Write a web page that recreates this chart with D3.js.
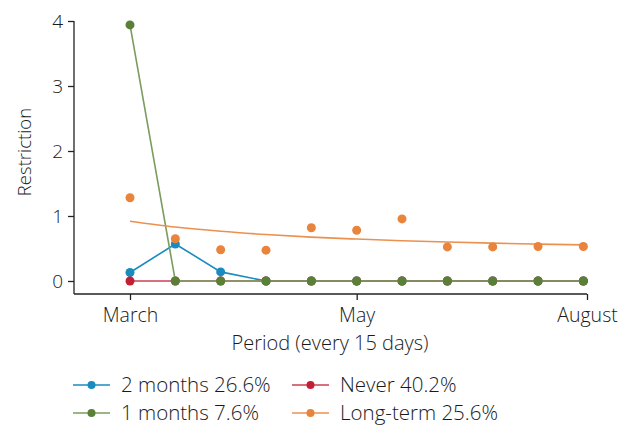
<!DOCTYPE html>
<html>
<head>
<meta charset="utf-8">
<script src="https://cdn.jsdelivr.net/npm/d3@7"></script>
<style>
  body { margin: 0; background: #fff; }
  text { font-family: 'Open Sans', 'DejaVu Sans', sans-serif; font-weight: 300; fill: #1a1a1a; }
</style>
</head>
<body>
<div id="chart"></div>
<script>
// period index (every 15 days)
var periods = [0, 1, 2, 3, 4, 5, 6, 7, 8, 9, 10];
var xTickVals = [0, 5, 10.08];
var xTickLabels = ['March', 'May', 'August'];
var yTicks = [0, 1, 2, 3, 4];

var twoMonths = [0.13, 0.57, 0.14, 0, 0, 0, 0, 0, 0, 0, 0];
var never = [0, 0, 0, 0, 0, 0, 0, 0, 0, 0, 0];
var oneMonth = [3.94, 0, 0, 0, 0, 0, 0, 0, 0, 0, 0];
var longTerm = [1.28, 0.65, 0.48, 0.475, 0.82, 0.78, 0.955, 0.525, 0.525, 0.53, 0.53];
var longTermFit = [0.92, 0.83, 0.765, 0.715, 0.675, 0.645, 0.62, 0.6, 0.583, 0.568, 0.556];

var legendItems = [
    { label: '2 months 26.6%', color: '#1a8bbf', line: '#1a8bbf' },
    { label: 'Never 40.2%', color: '#c41e35', line: '#c94050' },
    { label: '1 months 7.6%', color: '#5a8038', line: '#7a9c5c' },
    { label: 'Long-term 25.6%', color: '#e8843c', line: '#ec9050' }
];

var w = 630, h = 427;
var svg = d3.select('#chart')
    .append('svg')
    .attr('width', w)
    .attr('height', h);

var x = d3.scaleLinear().domain([0, 10.08]).range([130, 587]);
var y = d3.scaleLinear().domain([-0.2, 4]).range([294, 21]);

// axes
var yAxis = svg.append('g')
    .attr('transform', 'translate(74,0)')
    .call(d3.axisLeft(y).tickValues(yTicks).tickSize(6).tickPadding(5).tickFormat(d3.format('d')));
yAxis.select('.domain').attr('d', 'M0,' + y(4) + 'V294');
yAxis.selectAll('text').style('font-size', '19px');

var xAxis = svg.append('g')
    .attr('transform', 'translate(0,294)')
    .call(d3.axisBottom(x).tickValues(xTickVals).tickSize(6).tickPadding(8)
        .tickFormat((d, i) => xTickLabels[i]));
xAxis.select('.domain').attr('d', 'M74,0H' + x(10.08));
xAxis.selectAll('text').style('font-size', '19.5px');
svg.selectAll('.domain, .tick line').attr('stroke', '#222').attr('stroke-width', 1.3);

svg.append('text')
    .attr('transform', 'translate(31,' + 152 + ') rotate(-90)')
    .attr('text-anchor', 'middle')
    .style('font-size', '18.5px')
    .text('Restriction');

svg.append('text')
    .attr('x', 330)
    .attr('y', 350)
    .attr('text-anchor', 'middle')
    .style('font-size', '20px')
    .text('Period (every 15 days)');

var line = d3.line()
    .x((d, i) => x(periods[i]))
    .y((d) => y(d));

function series(vals, color, lineColor, withLine) {
    if (withLine) {
        svg.append('path')
            .datum(vals)
            .attr('fill', 'none')
            .attr('stroke', lineColor)
            .attr('stroke-width', 1.6)
            .attr('d', line);
    }
    svg.append('g')
        .selectAll('circle')
        .data(vals)
        .enter()
        .append('circle')
        .attr('cx', (d, i) => x(periods[i]))
        .attr('cy', (d) => y(d))
        .attr('r', 4.5)
        .attr('fill', color);
}

series(twoMonths, legendItems[0].color, legendItems[0].line, true);
series(never, legendItems[1].color, legendItems[1].line, true);
series(oneMonth, legendItems[2].color, legendItems[2].line, true);

svg.append('path')
    .datum(longTermFit)
    .attr('fill', 'none')
    .attr('stroke', legendItems[3].line)
    .attr('stroke-width', 1.6)
    .attr('d', line.curve(d3.curveMonotoneX));
series(longTerm, legendItems[3].color, legendItems[3].line, false);

// legend
var leg = svg.append('g')
    .selectAll('g')
    .data(legendItems)
    .enter()
    .append('g')
    .attr('transform', (d, i) => 'translate(' + (i % 2 ? 292 : 73) + ',' + (i < 2 ? 385 : 413) + ')');
leg.append('line')
    .attr('x1', 0).attr('x2', 37)
    .attr('stroke', (d) => d.line)
    .attr('stroke-width', 1.6);
leg.append('circle')
    .attr('cx', 18.5)
    .attr('r', 4)
    .attr('fill', (d) => d.color);
leg.append('text')
    .attr('x', 48)
    .attr('y', 7)
    .style('font-size', '20.5px')
    .text((d) => d.label);
</script>
</body>
</html>
